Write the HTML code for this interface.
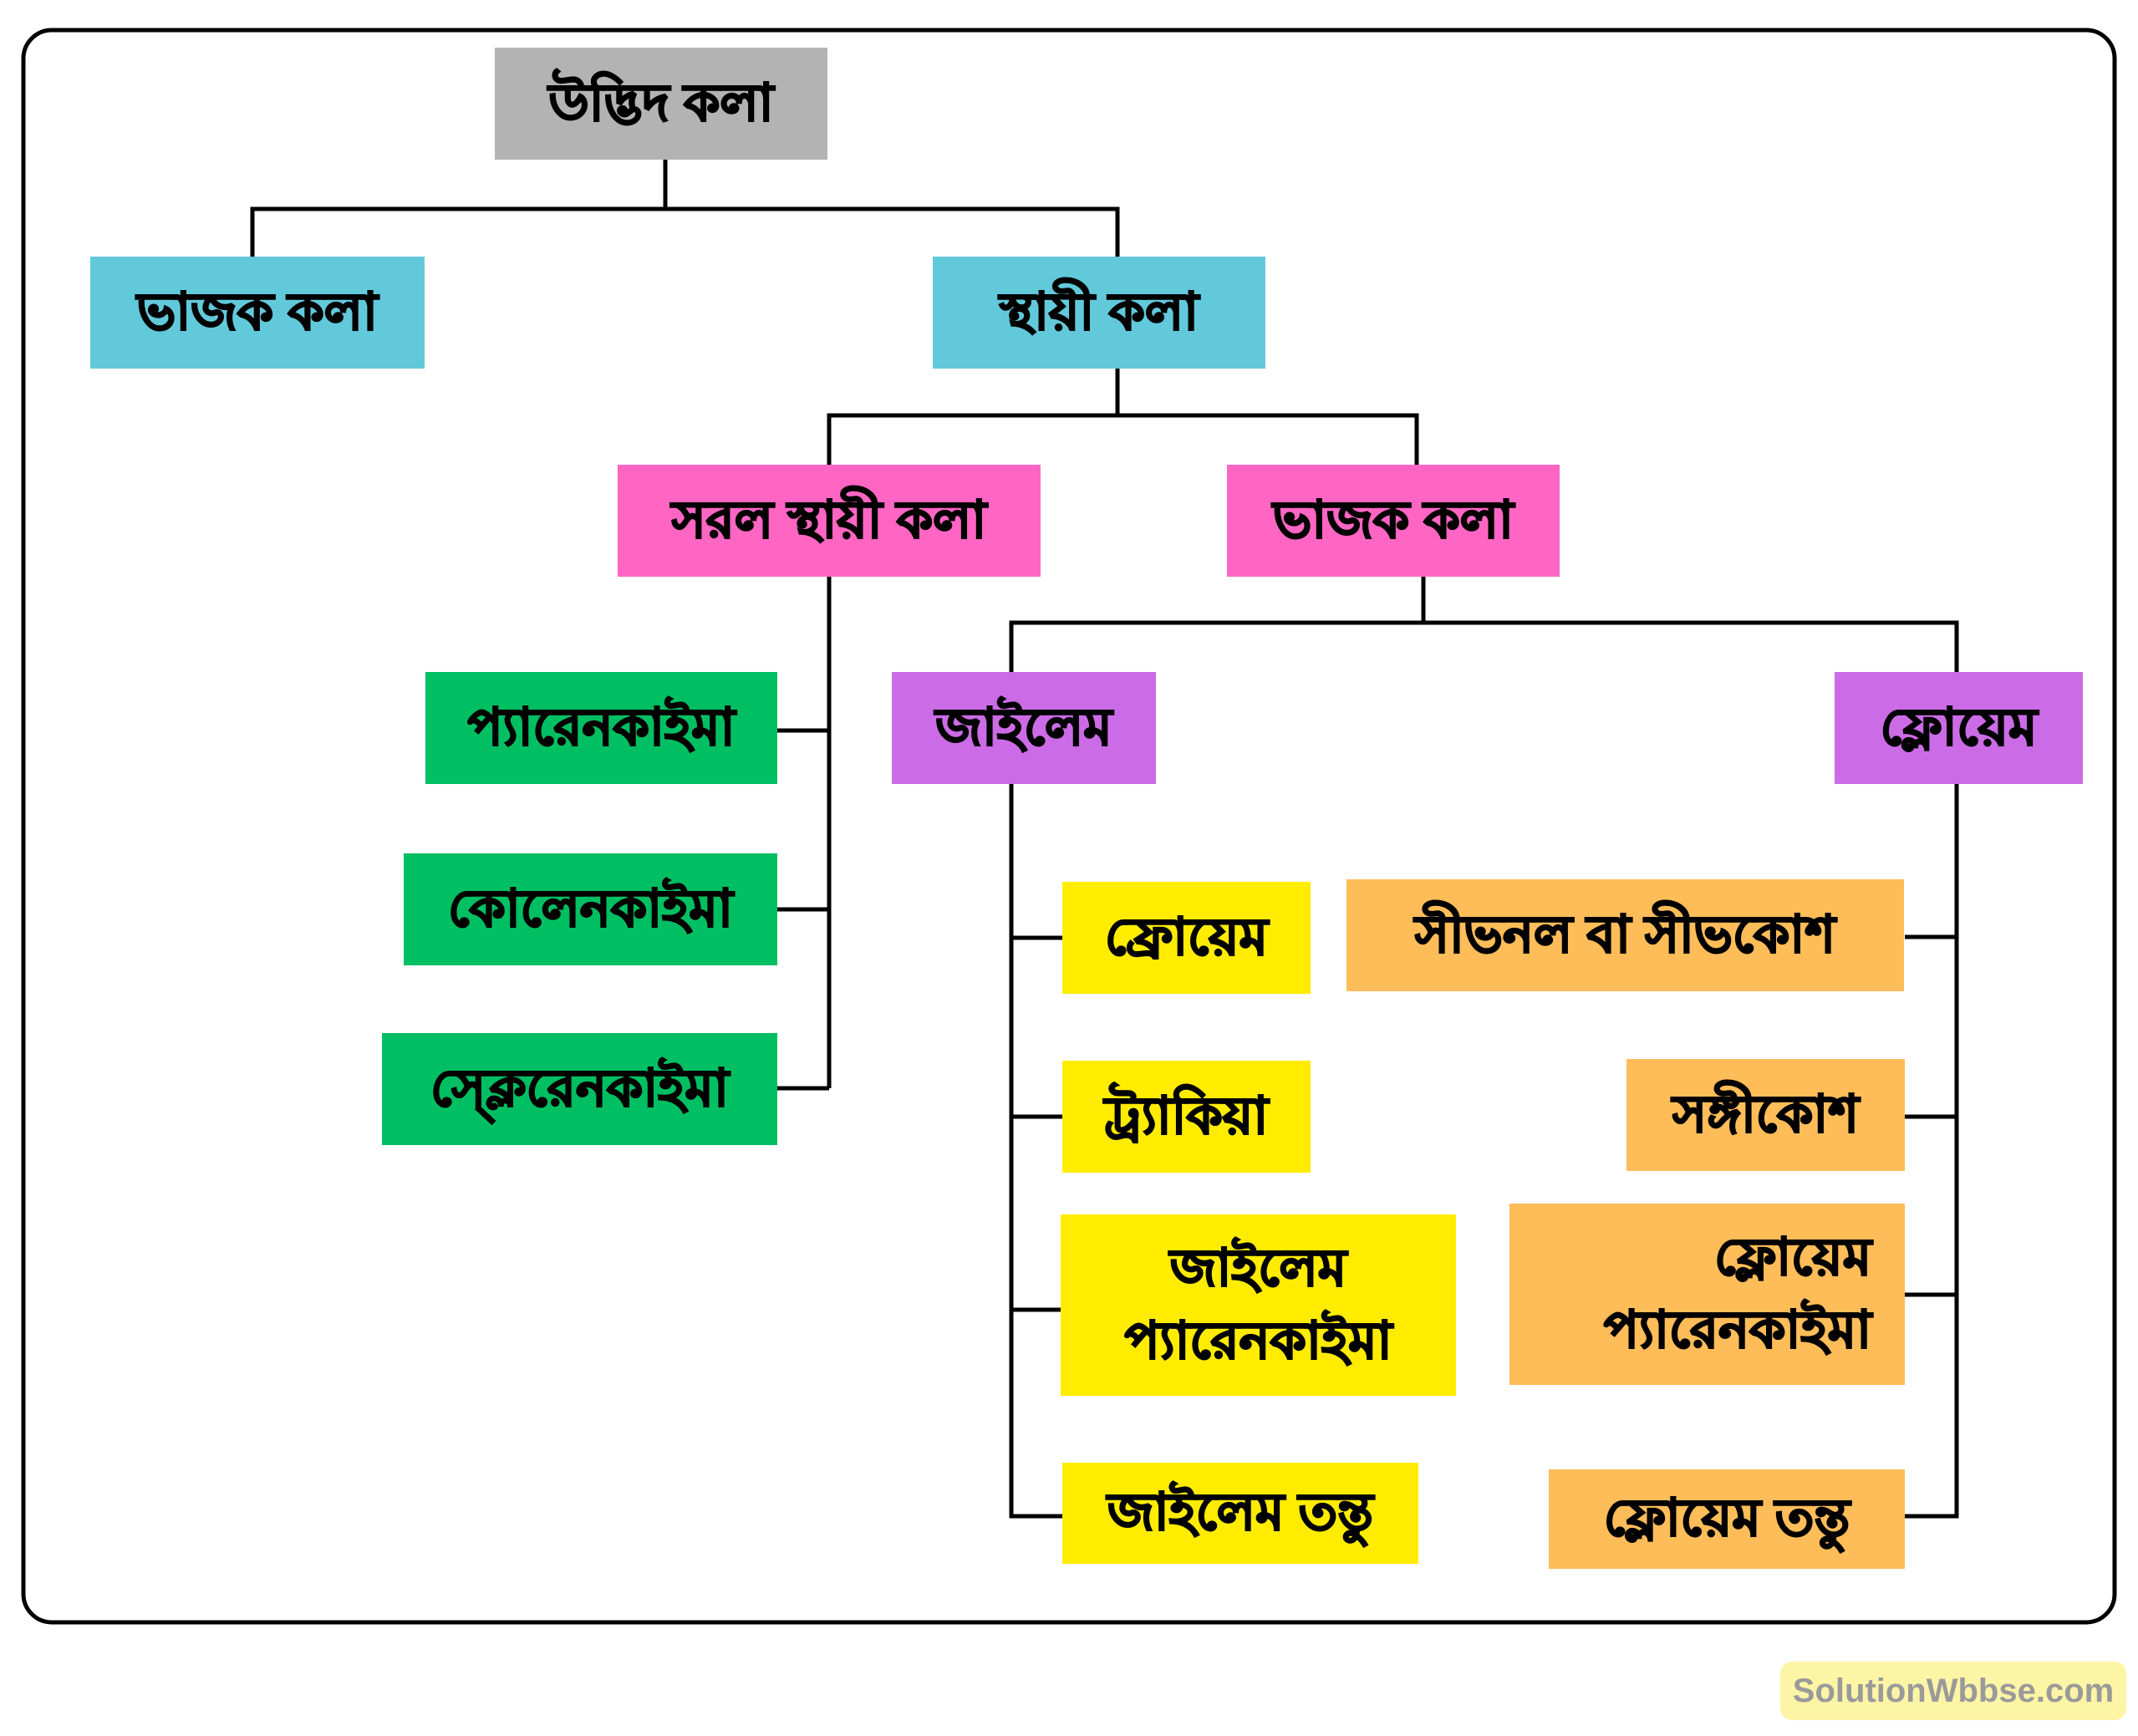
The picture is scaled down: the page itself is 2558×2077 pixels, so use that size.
<!DOCTYPE html>
<html><head><meta charset="utf-8"><style>
html,body{margin:0;padding:0;background:#fff;}
#c{position:relative;width:2558px;height:2077px;overflow:hidden;background:#fff;font-family:"Liberation Sans","Noto Sans CJK SC",sans-serif;}
.b{position:absolute;display:flex;align-items:center;justify-content:center;text-align:center;font-weight:bold;font-size:62px;color:#000;line-height:1.4;box-sizing:border-box;-webkit-text-stroke:2px #000;}
.g{background:#b3b3b3}.cy{background:#62c9db}.pk{background:#ff66c4}.gr{background:#00bf63}.pu{background:#cb6ce6}.ye{background:#ffec00}.or{background:#ffbd59}
svg{position:absolute;left:0;top:0}
</style></head><body><div id="c">
<svg width="2558" height="2077">
<rect x="28" y="36" width="2502" height="1905" rx="34" fill="none" stroke="#000" stroke-width="5"/>
<g stroke="#000" stroke-width="5" fill="none">
<path d="M796 191V250M302 307V250H1337V307"/>
<path d="M1337 441V497M992 556V497H1695V556"/>
<path d="M992 690V1302M930 874H992M930 1088H992M930 1302H992"/>
<path d="M1703 690V745M1210 804V745H2341V804"/>
<path d="M1210 938V1814H1271M1210 1122H1271M1210 1336H1271M1210 1567H1271"/>
<path d="M2341 938V1814H2279M2279 1121H2341M2279 1336H2341M2279 1549H2341"/>
</g>
</svg>
<div class="b g" style="left:592px;top:57px;width:398px;height:134px">উদ্ভিদ কলা</div>
<div class="b cy" style="left:108px;top:307px;width:400px;height:134px">ভাজক কলা</div>
<div class="b cy" style="left:1116px;top:307px;width:398px;height:134px">স্থায়ী কলা</div>
<div class="b pk" style="left:739px;top:556px;width:506px;height:134px">সরল স্থায়ী কলা</div>
<div class="b pk" style="left:1468px;top:556px;width:398px;height:134px">ভাজক কলা</div>
<div class="b gr" style="left:509px;top:804px;width:421px;height:134px">প্যারেনকাইমা</div>
<div class="b gr" style="left:483px;top:1021px;width:447px;height:134px">কোলেনকাইমা</div>
<div class="b gr" style="left:457px;top:1236px;width:473px;height:134px">স্ক্লেরেনকাইমা</div>
<div class="b pu" style="left:1067px;top:804px;width:316px;height:134px">জাইলেম</div>
<div class="b pu" style="left:2195px;top:804px;width:297px;height:134px">ফ্লোয়েম</div>
<div class="b ye" style="left:1271px;top:1055px;width:297px;height:134px">ফ্রোয়েম</div>
<div class="b ye" style="left:1271px;top:1269px;width:297px;height:134px">ট্র্যাকিয়া</div>
<div class="b ye" style="left:1269px;top:1453px;width:473px;height:217px">জাইলেম<br>প্যারেনকাইমা</div>
<div class="b ye" style="left:1271px;top:1750px;width:426px;height:121px">জাইলেম তন্তু</div>
<div class="b or" style="left:1611px;top:1052px;width:667px;height:134px">সীভনল বা সীভকোশ</div>
<div class="b or" style="left:1946px;top:1267px;width:333px;height:134px">সঙ্গীকোশ</div>
<div class="b or" style="left:1806px;top:1440px;width:473px;height:217px;text-align:right;justify-content:flex-end;padding-right:40px">ফ্লোয়েম<br>প্যারেনকাইমা</div>
<div class="b or" style="left:1853px;top:1758px;width:426px;height:119px">ফ্লোয়েম তন্তু</div>
<div style="position:absolute;left:2130px;top:1988px;width:414px;height:70px;background:#fdf5a6;border-radius:14px;display:flex;align-items:center;justify-content:center;font-size:40px;font-weight:bold;color:#9a9a9a;font-family:'Liberation Sans',sans-serif">SolutionWbbse.com</div>
</div></body></html>
